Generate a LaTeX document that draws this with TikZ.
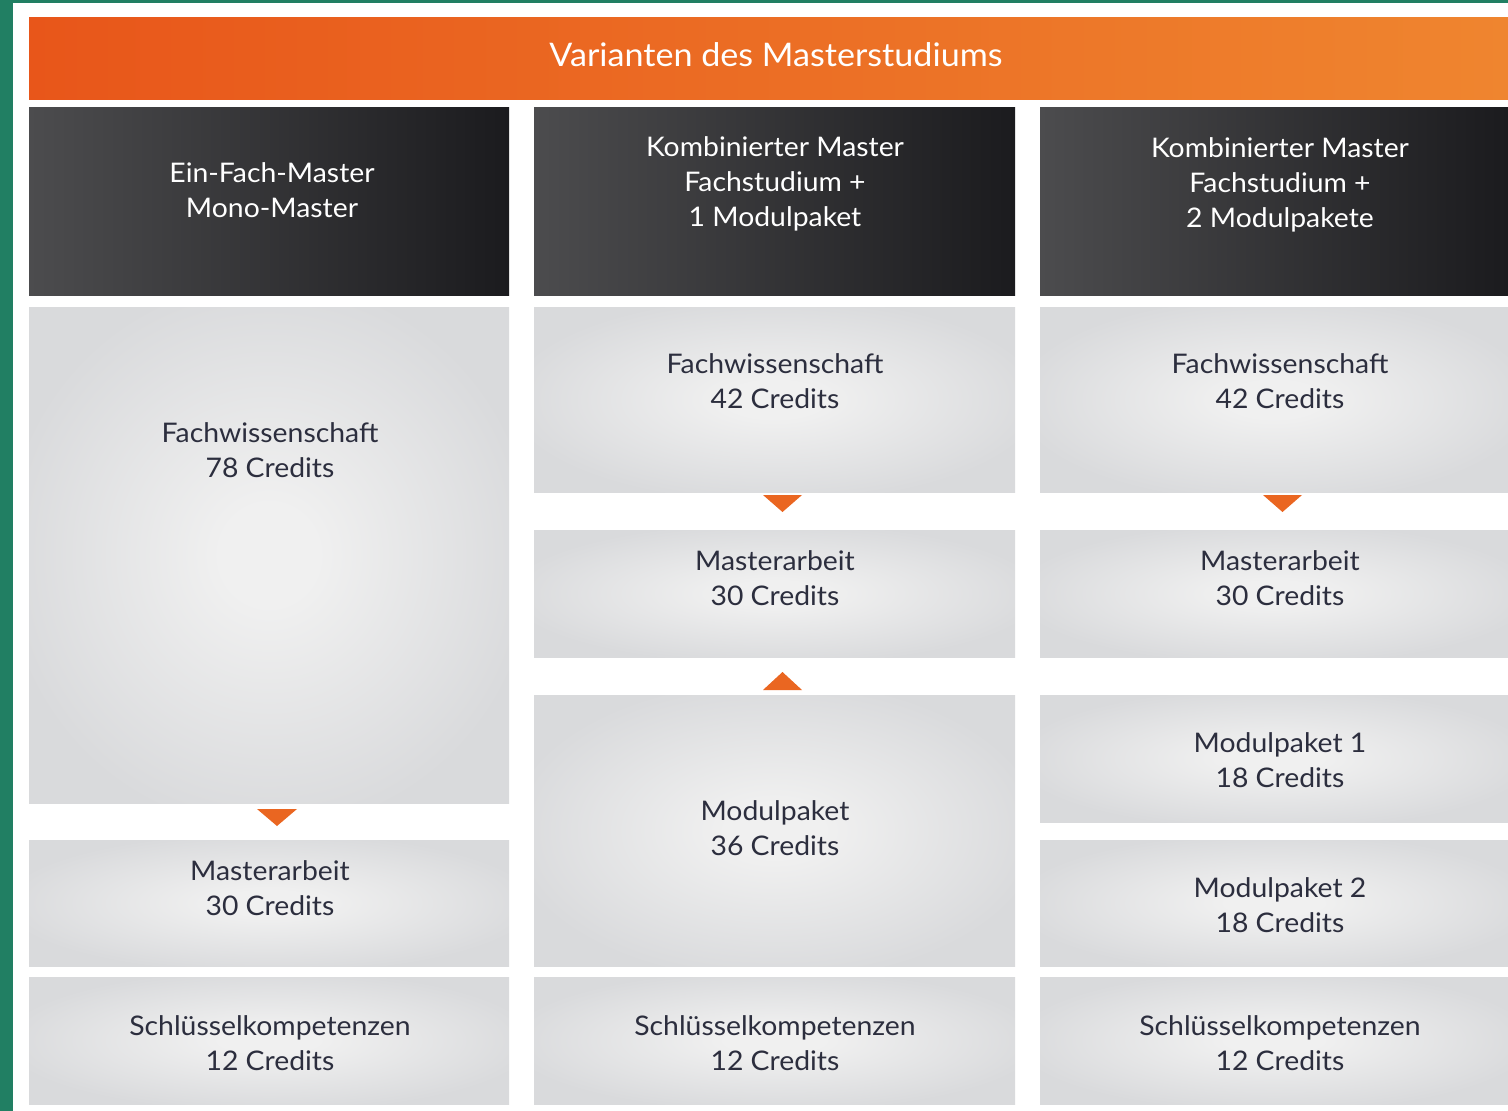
\documentclass[tikz,border=0pt]{standalone}
\usepackage{fontspec}
\setmainfont{Lato}[FakeStretch=1.05]
\usepackage{xcolor}
\usetikzlibrary{positioning}

\definecolor{edgegreen}{HTML}{217F63}
\definecolor{bannerleft}{HTML}{E8561A}
\definecolor{bannerright}{HTML}{EF852F}
\definecolor{headleft}{HTML}{4C4C4E}
\definecolor{headright}{HTML}{1B1B1E}
\definecolor{cellin}{HTML}{F0F0F0}
\definecolor{cellout}{HTML}{D9DADC}
\definecolor{celltext}{HTML}{2C2E3E}
\definecolor{pointerorange}{HTML}{EA6621}

\pgfdeclareradialshading{cellshade}{\pgfpoint{0bp}{0bp}}{color(0bp)=(cellin); color(5bp)=(cellin); color(28bp)=(cellout); color(50bp)=(cellout)}

\begin{document}
\begin{tikzpicture}[x=1pt, y=-1pt,
  banner/.style={left color=bannerleft, right color=bannerright, inner sep=0, outer sep=0},
  head/.style={left color=headleft, right color=headright, inner sep=0, outer sep=0},
  cell/.style={shade, shading=cellshade, inner sep=0, outer sep=0},
  headtext/.style={text=white, align=center, font=\fontsize{27}{35}\selectfont},
  celltxt/.style={text=celltext, align=center, font=\fontsize{27}{35}\selectfont},
  pointer/.style={fill=pointerorange}
  ]

  \useasboundingbox[fill=white] (0,0) rectangle (1508,1111);
  \fill[edgegreen] (0,0) rectangle (13,1111);
  \fill[edgegreen] (0,0) rectangle (1508,3);

  % banner
  \node[banner, minimum width=1479, minimum height=82] (banner) at (768.5,58) {};
  \node[text=white, font=\fontsize{32.5}{40}\selectfont] (bannert) at (776,55) {Varianten des Masterstudiums};

  % column heads
  \node[head, minimum width=480, minimum height=188] (head1) at (269,201) {};
  \node[head, minimum width=481, minimum height=188] (head2) at (774.5,201) {};
  \node[head, minimum width=468, minimum height=188] (head3) at (1274,201) {};
  \node[headtext] (head1t) at (272,190) {Ein-Fach-Master\\Mono-Master};
  \node[headtext] (head2t) at (775,184) {Kombinierter Master\\Fachstudium +\\1 Modulpaket};
  \node[headtext] (head3t) at (1280,185) {Kombinierter Master\\Fachstudium +\\2 Modulpakete};

  % column 1
  \node[cell, minimum width=480, minimum height=496] (fach1) at (269,555) {};
  \node[cell, minimum width=480, minimum height=126] (mast1) at (269,903) {};
  \node[cell, minimum width=480, minimum height=127] (schl1) at (269,1040.5) {};
  \node[celltxt] (fach1t) at (270,450) {Fachwissenschaft\\78 Credits};
  \node[celltxt] (mast1t) at (270,888) {Masterarbeit\\30 Credits};
  \node[celltxt] (schl1t) at (270,1043) {Schlüsselkompetenzen\\12 Credits};
  \fill[pointer] ([xshift=-12pt]fach1.south) ++(0,6) -- ++(40,0) -- ++(-20,17) -- cycle;

  % column 2
  \node[cell, minimum width=481, minimum height=185] (fach2) at (774.5,399.5) {};
  \node[cell, minimum width=481, minimum height=127] (mast2) at (774.5,593.5) {};
  \node[cell, minimum width=481, minimum height=271] (modul2) at (774.5,830.5) {};
  \node[cell, minimum width=481, minimum height=127] (schl2) at (774.5,1040.5) {};
  \node[celltxt] (fach2t) at (775,381) {Fachwissenschaft\\42 Credits};
  \node[celltxt] (mast2t) at (775,578) {Masterarbeit\\30 Credits};
  \node[celltxt] (modul2t) at (775,828) {Modulpaket\\36 Credits};
  \node[celltxt] (schl2t) at (775,1043) {Schlüsselkompetenzen\\12 Credits};
  \fill[pointer] ([xshift=-11.5pt]fach2.south) ++(0,3) -- ++(39,0) -- ++(-19.5,17) -- cycle;
  \fill[pointer] ([xshift=-11.5pt]modul2.north) ++(0,-5) -- ++(39,0) -- ++(-19.5,-18) -- cycle;

  % column 3
  \node[cell, minimum width=468, minimum height=185] (fach3) at (1274,399.5) {};
  \node[cell, minimum width=468, minimum height=127] (mast3) at (1274,593.5) {};
  \node[cell, minimum width=468, minimum height=127] (modul3a) at (1274,758.5) {};
  \node[cell, minimum width=468, minimum height=126] (modul3b) at (1274,903) {};
  \node[cell, minimum width=468, minimum height=127] (schl3) at (1274,1040.5) {};
  \node[celltxt] (fach3t) at (1280,381) {Fachwissenschaft\\42 Credits};
  \node[celltxt] (mast3t) at (1280,578) {Masterarbeit\\30 Credits};
  \node[celltxt] (modul3at) at (1280,760) {Modulpaket 1\\18 Credits};
  \node[celltxt] (modul3bt) at (1280,905) {Modulpaket 2\\18 Credits};
  \node[celltxt] (schl3t) at (1280,1043) {Schlüsselkompetenzen\\12 Credits};
  \fill[pointer] ([xshift=-11pt]fach3.south) ++(0,3) -- ++(39,0) -- ++(-19.5,17) -- cycle;
\end{tikzpicture}
\end{document}
